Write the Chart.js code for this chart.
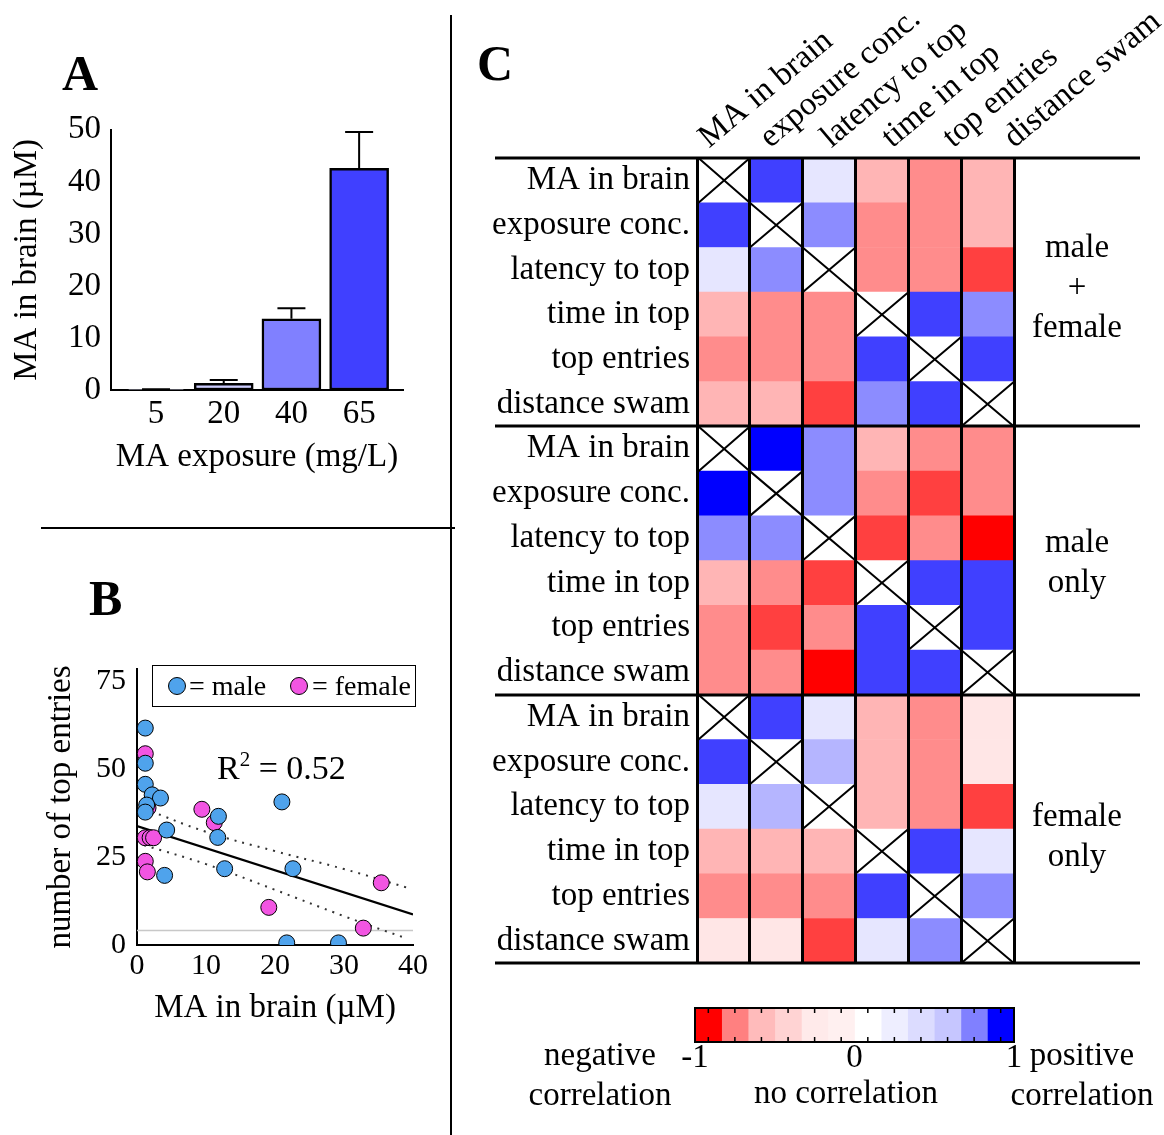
<!DOCTYPE html>
<html>
<head>
<meta charset="utf-8">
<script src="https://cdn.jsdelivr.net/npm/chart.js@4.4.1/dist/chart.umd.min.js"></script>
<style>
  body { margin: 0; background: #fff; }
  #page { position: relative; width: 1164px; height: 1135px; overflow: hidden;
          font-family: "Liberation Serif", "Times New Roman", serif; color: #000; }
  canvas, .txt, .rule { position: absolute; }
  .txt { white-space: nowrap; line-height: 1; }
  .letter { font-weight: bold; font-size: 50px; }
  .rule { background: #000; }
  .group { font-size: 33px; line-height: 40px; text-align: center; width: 140px; }
  .cb { font-size: 33px; line-height: 40px; text-align: center; width: 200px; }
  #legendB { position: absolute; left: 152px; top: 665px; width: 264px; height: 42px;
             border: 1.5px solid #000; box-sizing: border-box; font-size: 28px; }
  #legendB span { position: absolute; line-height: 39px; top: 0; }
  #legendB i { position: absolute; top: 11px; width: 16px; height: 16px; border-radius: 50%;
               border: 1px solid #000; }
</style>
</head>
<body>
<div id="page">
  <div class="rule" style="left:450px; top:15px; width:2px; height:1120px;"></div>
  <div class="rule" style="left:41px; top:527px; width:414px; height:2px;"></div>

  <div class="txt letter" style="left:62px; top:48px;">A</div>
  <div class="txt letter" style="left:89px; top:573px;">B</div>
  <div class="txt letter" style="left:477px; top:38px;">C</div>

  <canvas id="chartA" width="440" height="380" style="left:0; top:100px;"></canvas>
  <canvas id="chartB" width="440" height="400" style="left:0; top:640px;"></canvas>
  <canvas id="chartC" width="694" height="990" style="left:470px; top:0;"></canvas>
  <canvas id="chartBar" width="684" height="140" style="left:480px; top:995px;"></canvas>

  <div id="legendB">
    <i style="left:15px; background:#4fa3ec;"></i><span style="left:36px;">= male</span>
    <i style="left:137px; background:#f255e2;"></i><span style="left:159px;">= female</span>
  </div>
  <div class="txt" style="left:217px; top:751px; font-size:34px;">R<span style="font-size:21px; position:relative; top:-13px;">2</span> = 0.52</div>

  <div class="txt group" style="left:1007px; top:226px;">male<br>+<br>female</div>
  <div class="txt group" style="left:1007px; top:521px;">male<br>only</div>
  <div class="txt group" style="left:1007px; top:795px;">female<br>only</div>

  <div class="txt cb" style="left:500px; top:1034px;">negative<br>correlation</div>
  <div class="txt cb" style="left:746px; top:1072px;">no correlation</div>
  <div class="txt cb" style="left:982px; top:1034px;">positive<br>correlation</div>
</div>
<script>
// panel A
const exposureLabels = ["5", "20", "40", "65"];
const brainMean = [0.1, 1.3, 13.7, 42.6];
const brainSem = [0.05, 0.6, 2.0, 7.0];
const barFills = ["#e6e6ff", "#ccccff", "#8080ff", "#4040ff"];

// panel B
const maleBrain = [1.2, 1.2, 1.2, 2.2, 3.4, 1.4, 1.2, 4.3, 4.0, 11.8, 11.7, 12.7, 21.0, 22.6, 21.7, 29.2];
const maleEntries = [61.7, 51.7, 45.7, 42.7, 41.8, 39.8, 37.8, 32.7, 19.8, 36.6, 30.6, 21.7, 40.7, 21.7, 0.6, 0.6];
const femaleBrain = [1.2, 1.6, 1.2, 1.9, 2.4, 1.2, 1.5, 9.4, 11.2, 19.1, 35.4, 32.8];
const femaleEntries = [54.4, 39.0, 30.5, 30.5, 30.5, 23.8, 20.8, 38.6, 34.8, 10.7, 17.7, 4.8];
const fitBrain = [0, 40];
const fitEntries = [33.8, 8.7];
const bandBrain = [1, 10, 20, 30, 39];
const bandUpper = [38.8, 32.2, 26.7, 21.6, 16.4];
const bandLower = [28.4, 23.0, 15.7, 8.2, 1.9];
const floorBrain = [0, 40];
const floorEntries = [4.1, 4.1];

// panel C
const variables = ["MA in brain", "exposure conc.", "latency to top", "time in top", "top entries", "distance swam"];
const groups = ["male + female", "male only", "female only"];
const corrBoth = [
  [null, 0.75, 0.1, -0.29, -0.45, -0.29],
  [0.75, null, 0.45, -0.45, -0.45, -0.29],
  [0.1, 0.45, null, -0.45, -0.45, -0.75],
  [-0.29, -0.45, -0.45, null, 0.75, 0.45],
  [-0.45, -0.45, -0.45, 0.75, null, 0.75],
  [-0.29, -0.29, -0.75, 0.45, 0.75, null]
];
const corrMale = [
  [null, 1.0, 0.45, -0.29, -0.45, -0.45],
  [1.0, null, 0.45, -0.45, -0.75, -0.45],
  [0.45, 0.45, null, -0.75, -0.45, -1.0],
  [-0.29, -0.45, -0.75, null, 0.75, 0.75],
  [-0.45, -0.75, -0.45, 0.75, null, 0.75],
  [-0.45, -0.45, -1.0, 0.75, 0.75, null]
];
const corrFemale = [
  [null, 0.75, 0.1, -0.29, -0.45, -0.1],
  [0.75, null, 0.29, -0.29, -0.45, -0.1],
  [0.1, 0.29, null, -0.29, -0.45, -0.75],
  [-0.29, -0.29, -0.29, null, 0.75, 0.1],
  [-0.45, -0.45, -0.45, 0.75, null, 0.45],
  [-0.1, -0.1, -0.75, 0.1, 0.45, null]
];
const headerStep = 1.155; // column headers are spaced a bit wider than the cells

// colour bar
const barEdges = [-1, -0.833, -0.667, -0.5, -0.333, -0.167, 0, 0.167, 0.333, 0.5, 0.667, 0.833, 1];
const barColors = ["#ff0000", "#ff8080", "#ffbbbb", "#ffd3d3", "#ffeaea", "#fff0f0",
                   "#ffffff", "#eeeeff", "#dcdcff", "#c6c6ff", "#8080ff", "#0000ff"];
const barTicks = [-1, 0, 1];

const serif = "'Liberation Serif', 'Times New Roman', serif";
Chart.defaults.font.family = serif;
Chart.defaults.color = "#000";
Chart.defaults.animation = false;
Chart.defaults.responsive = false;
Chart.defaults.plugins.legend.display = false;
Chart.defaults.plugins.tooltip.enabled = false;

const f = (size, extra) => Object.assign({ family: serif, size }, extra || {});

// ---- A: bars with error bars
const errorBars = {
  id: "errorBars",
  afterDatasetsDraw(chart) {
    const ctx = chart.ctx;
    const y = chart.scales.y;
    ctx.save();
    ctx.strokeStyle = "#000";
    ctx.lineWidth = 2;
    chart.getDatasetMeta(0).data.forEach((bar, i) => {
      const top = y.getPixelForValue(brainMean[i] + brainSem[i]);
      ctx.beginPath();
      ctx.moveTo(bar.x, bar.y);
      ctx.lineTo(bar.x, top);
      ctx.moveTo(bar.x - 14, top);
      ctx.lineTo(bar.x + 14, top);
      ctx.stroke();
    });
    ctx.restore();
  }
};

new Chart(document.getElementById("chartA"), {
  type: "bar",
  data: {
    datasets: [{
      data: brainMean.map((v, i) => ({ x: i + 1, y: v })),
      backgroundColor: barFills,
      borderColor: "#000",
      borderWidth: 2.5,
      borderSkipped: false,
      barThickness: 59
    }]
  },
  options: {
    layout: { padding: { top: 25, right: 37, left: 0, bottom: 0 } },
    scales: {
      x: {
        type: "linear", min: 0.335, max: 4.648, offset: false,
        afterBuildTicks: (s) => { s.ticks = exposureLabels.map((_, i) => ({ value: i + 1 })); },
        afterFit: (s) => { s.height = 90; },
        ticks: { font: f(33), padding: 5, callback: (v, i) => exposureLabels[i] },
        grid: { display: false, drawTicks: false, offset: false },
        border: { color: "#000", width: 2 },
        title: { display: true, text: "MA exposure (mg/L)", font: f(33), padding: { top: 0, bottom: 3 } }
      },
      y: {
        min: 0, max: 50,
        afterFit: (s) => { s.width = 111; },
        ticks: { stepSize: 10, font: f(33), padding: 10 },
        grid: { display: false, drawTicks: false },
        border: { color: "#000", width: 2 },
        title: { display: true, text: "MA in brain (µM)", font: f(33), padding: { top: 8, bottom: 0 } }
      }
    }
  },
  plugins: [errorBars]
});

// ---- B: scatter with fit and confidence band
const toXY = (xs, ys) => xs.map((x, i) => ({ x, y: ys[i] }));
new Chart(document.getElementById("chartB"), {
  type: "scatter",
  data: {
    datasets: [
      { data: toXY(maleBrain, maleEntries), backgroundColor: "#4fa3ec", borderColor: "#000",
        borderWidth: 1, pointRadius: 8 },
      { data: toXY(femaleBrain, femaleEntries), backgroundColor: "#f255e2", borderColor: "#000",
        borderWidth: 1, pointRadius: 8 },
      { data: toXY(fitBrain, fitEntries), showLine: true, pointRadius: 0, borderColor: "#000", borderWidth: 2.2 },
      { data: toXY(bandBrain, bandUpper), showLine: true, pointRadius: 0, borderColor: "#333",
        borderWidth: 2, borderDash: [2, 6], tension: 0.4 },
      { data: toXY(bandBrain, bandLower), showLine: true, pointRadius: 0, borderColor: "#333",
        borderWidth: 2, borderDash: [2, 6], tension: 0.4 },
      { data: toXY(floorBrain, floorEntries), showLine: true, pointRadius: 0, borderColor: "#c8c8c8", borderWidth: 1.5 }
    ]
  },
  options: {
    layout: { padding: { top: 18, right: 27, left: 0, bottom: 0 } },
    scales: {
      x: {
        min: 0, max: 40,
        afterFit: (s) => { s.height = 95; },
        ticks: { stepSize: 10, font: f(30), padding: 3 },
        grid: { display: false, drawTicks: false },
        border: { color: "#000", width: 2 },
        title: { display: true, text: "MA in brain (µM)", font: f(33), padding: { top: 0, bottom: 12 } }
      },
      y: {
        min: 0, max: 78.5,
        afterFit: (s) => { s.width = 137; },
        ticks: { stepSize: 25, includeBounds: false, font: f(30), padding: 11 },
        grid: { display: false, drawTicks: false },
        border: { color: "#000", width: 2 },
        title: { display: true, text: "number of top entries", font: f(33), padding: { top: 42, bottom: 0 } }
      }
    }
  }
});

// ---- C: correlation heatmap as stacked horizontal bars
const sections = [corrBoth, corrMale, corrFemale];
const rowLabels = groups.flatMap(() => variables);
const cellColor = (v) => {
  if (v === null) return "#ffffff";
  const c = Math.round(255 * (1 - Math.abs(v)));
  return v > 0 ? `rgb(${c},${c},255)` : `rgb(255,${c},${c})`;
};

const heatOverlay = {
  id: "heatOverlay",
  afterDatasetsDraw(chart) {
    const ctx = chart.ctx;
    ctx.save();
    ctx.strokeStyle = "#000";
    ctx.lineWidth = 2;
    sections.forEach((m, s) => m.forEach((row, r) => row.forEach((v, j) => {
      if (v !== null) return;
      const bar = chart.getDatasetMeta(j).data[s * variables.length + r];
      const y0 = bar.y - bar.height / 2, y1 = bar.y + bar.height / 2;
      ctx.beginPath();
      ctx.moveTo(bar.base, y0); ctx.lineTo(bar.x, y1);
      ctx.moveTo(bar.x, y0); ctx.lineTo(bar.base, y1);
      ctx.stroke();
    })));
    ctx.restore();
  },
  afterDraw(chart) {
    const ctx = chart.ctx;
    const y = chart.scales.y;
    ctx.save();
    ctx.strokeStyle = "#000";
    ctx.lineWidth = 3;
    for (let k = 0; k <= groups.length; k++) {
      const py = Math.round(y.getPixelForValue(k * variables.length - 0.5));
      ctx.beginPath();
      ctx.moveTo(25, py);
      ctx.lineTo(670, py);
      ctx.stroke();
    }
    ctx.restore();
  }
};

new Chart(document.getElementById("chartC"), {
  type: "bar",
  data: {
    labels: rowLabels,
    datasets: variables.map((name, j) => ({
      label: name,
      data: rowLabels.map(() => 1),
      backgroundColor: sections.flatMap((m) => m.map((row) => cellColor(row[j]))),
      borderWidth: 0,
      barPercentage: 1,
      categoryPercentage: 1
    }))
  },
  options: {
    indexAxis: "y",
    layout: { padding: { top: 0, right: 150, bottom: 13, left: 0 } },
    scales: {
      x: {
        type: "linear", min: 0, max: 6, stacked: true, position: "bottom",
        ticks: { display: false, stepSize: 1 },
        grid: { color: "#000", lineWidth: 3, drawTicks: false, z: 1 },
        border: { display: false }
      },
      x2: {
        type: "linear", min: 0, max: 6, position: "top",
        afterBuildTicks: (s) => { s.ticks = variables.map((_, i) => ({ value: i * headerStep })); },
        afterFit: (s) => { s.height = 158; },
        ticks: { autoSkip: false, minRotation: 40, maxRotation: 40, labelOffset: 32, padding: 1,
                 font: f(33), callback: (v, i) => variables[i] },
        grid: { display: false, drawTicks: false },
        border: { display: false }
      },
      y: {
        type: "category", stacked: true,
        afterFit: (s) => { s.width = 227; },
        ticks: { autoSkip: false, font: f(33), padding: 7 },
        grid: { display: false, drawTicks: false },
        border: { display: false }
      }
    }
  },
  plugins: [heatOverlay]
});

// ---- colour key
const barFrame = {
  id: "barFrame",
  afterDatasetsDraw(chart) {
    const ctx = chart.ctx;
    const a = chart.chartArea;
    const x = chart.scales.x;
    ctx.save();
    ctx.strokeStyle = "#000";
    ctx.lineWidth = 2;
    ctx.strokeRect(a.left, a.top, a.right - a.left, a.bottom - a.top);
    ctx.lineWidth = 1.5;
    barColors.forEach((_, i) => {
      const px = x.getPixelForValue((barEdges[i] + barEdges[i + 1]) / 2);
      ctx.beginPath();
      ctx.moveTo(px, a.top); ctx.lineTo(px, a.top + 5);
      ctx.moveTo(px, a.bottom); ctx.lineTo(px, a.bottom - 5);
      ctx.stroke();
    });
    ctx.restore();
  }
};

new Chart(document.getElementById("chartBar"), {
  type: "bar",
  data: {
    labels: [""],
    datasets: barColors.map((c, i) => ({
      data: [[barEdges[i], barEdges[i + 1]]],
      backgroundColor: c,
      borderWidth: 0,
      grouped: false,
      barPercentage: 1,
      categoryPercentage: 1
    }))
  },
  options: {
    indexAxis: "y",
    layout: { padding: { top: 13, right: 150, left: 215, bottom: 0 } },
    scales: {
      x: {
        type: "linear", min: -1, max: 1,
        afterBuildTicks: (s) => { s.ticks = barTicks.map((v) => ({ value: v })); },
        afterFit: (s) => { s.height = 93; },
        ticks: { font: f(33, { lineHeight: 1 }), padding: 0 },
        grid: { display: false, drawTicks: false },
        border: { display: false }
      },
      y: { display: false }
    }
  },
  plugins: [barFrame]
});
</script>
</body>
</html>
